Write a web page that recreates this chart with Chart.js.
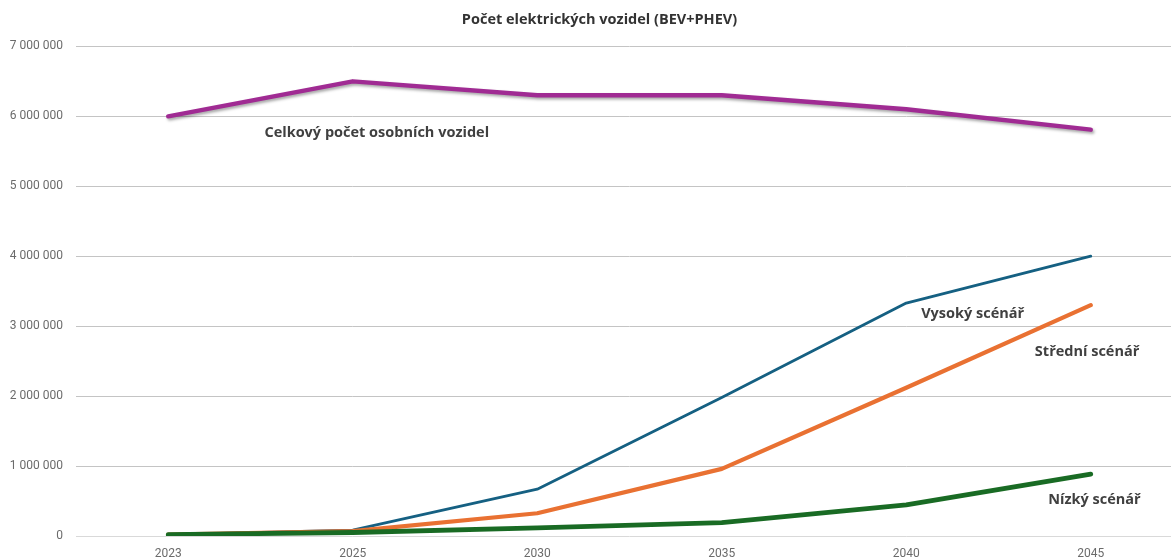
<!DOCTYPE html>
<html>
<head>
<meta charset="utf-8">
<script src="https://cdn.jsdelivr.net/npm/chart.js@4.4.1/dist/chart.umd.min.js"></script>
<style>
  html, body { margin: 0; padding: 0; background: #ffffff; overflow: hidden; }
  #wrap { position: relative; width: 1198px; height: 558px; }
</style>
</head>
<body>
<div id="wrap"><canvas id="c"></canvas></div>
<script>
const titleText = 'Počet elektrických vozidel (BEV+PHEV)';
const years = ['2023', '2025', '2030', '2035', '2040', '2045'];
const totalCars = [6000000, 6500000, 6300000, 6300000, 6100000, 5810000];
const highScenario = [20000, 85000, 670000, 1980000, 3330000, 4000000];
const midScenario = [20000, 70000, 325000, 960000, 2120000, 3300000];
const lowScenario = [20000, 50000, 115000, 190000, 445000, 885000];
const seriesNames = ['Celkový počet osobních vozidel', 'Vysoký scénář', 'Střední scénář', 'Nízký scénář'];
// label anchors: [category index (fractional), value]
const labelAnchors = [[1.13, 5770000], [4.36, 3180000], [4.98, 2635000], [5.02, 520000]];
const yTicks = [0, 1000000, 2000000, 3000000, 4000000, 5000000, 6000000, 7000000];

const fmt = v => String(v).replace(/\B(?=(\d{3})+(?!\d))/g, ' ');

const shadowPlugin = {
  id: 'shadow',
  afterLayout(chart) {
    if (chart.titleBlock) chart.titleBlock.left += 16;
  },
  beforeDatasetDraw(chart, args) {
    if (args.index === 0) {
      const ctx = chart.ctx;
      ctx.save();
      ctx.shadowColor = 'rgba(0,0,0,0.35)';
      ctx.shadowBlur = 3;
      ctx.shadowOffsetX = 1.5;
      ctx.shadowOffsetY = 2;
    }
  },
  afterDatasetDraw(chart, args) {
    if (args.index === 0) chart.ctx.restore();
  }
};

const labelPlugin = {
  id: 'seriesLabels',
  afterDatasetsDraw(chart) {
    const ctx = chart.ctx;
    const xs = chart.scales.x, ys = chart.scales.y;
    ctx.save();
    ctx.font = 'bold 14.5px "Open Sans", Roboto, sans-serif';
    ctx.fillStyle = '#404040';
    ctx.textAlign = 'center';
    ctx.textBaseline = 'middle';
    seriesNames.forEach((name, i) => {
      const a = labelAnchors[i];
      ctx.fillText(name, xs.getPixelForValue(a[0]), ys.getPixelForValue(a[1]));
    });
    ctx.restore();
  }
};

new Chart(document.getElementById('c'), {
  type: 'line',
  data: {
    labels: years,
    datasets: [
      { label: seriesNames[0], data: totalCars, borderColor: '#A02B93', borderWidth: 4.5, order: 3 },
      { label: seriesNames[1], data: highScenario, borderColor: '#156082', borderWidth: 2.8, order: 2 },
      { label: seriesNames[2], data: midScenario, borderColor: '#E97132', borderWidth: 4.2, order: 1 },
      { label: seriesNames[3], data: lowScenario, borderColor: '#196B24', borderWidth: 4.8, order: 0 }
    ].map(d => Object.assign(d, { pointRadius: 0, pointHoverRadius: 0, tension: 0, fill: false, borderCapStyle: 'round', borderJoinStyle: 'round' }))
  },
  options: {
    responsive: true,
    maintainAspectRatio: false,
    animation: false,
    devicePixelRatio: 1,
    layout: { padding: { top: 4, right: 15, left: 0, bottom: 0 } },
    plugins: {
      legend: { display: false },
      tooltip: { enabled: false },
      title: {
        display: true,
        text: titleText,
        color: '#333333',
        font: { family: '"Open Sans", Roboto, sans-serif', size: 14.5, weight: 'bold' },
        padding: { top: 7, bottom: 18 }
      }
    },
    scales: {
      x: {
        offset: true,
        grid: { display: false, drawTicks: false },
        border: { display: false },
        ticks: { color: '#6b6b6b', font: { family: 'Roboto, sans-serif', size: 12 }, padding: 11, maxRotation: 0 },
        afterFit(s) { s.height = 22; }
      },
      y: {
        min: 0,
        max: 7000000,
        afterBuildTicks(s) { s.ticks = yTicks.map(v => ({ value: v })); },
        grid: {
          color: ctx => ctx.tick && ctx.tick.value === 0 ? '#d9d9d9' : '#c4c4c4',
          lineWidth: 1,
          drawTicks: false
        },
        border: { display: false },
        ticks: { color: '#6b6b6b', font: { family: 'Roboto, sans-serif', size: 12 }, padding: 13, callback: v => fmt(v) },
        afterFit(s) { s.width = 76; }
      }
    }
  },
  plugins: [shadowPlugin, labelPlugin]
});
</script>
</body>
</html>
